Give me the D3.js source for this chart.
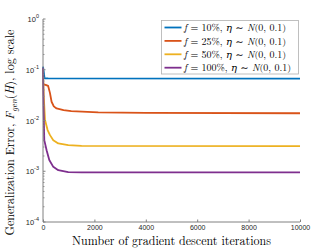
<!DOCTYPE html>
<html>
<head>
<meta charset="utf-8">
<script src="https://cdn.jsdelivr.net/npm/d3@7"></script>
<style>
  body { margin: 0; background: #fff; }
</style>
</head>
<body>
<div id="vis"></div>
<script>
// data
const xTicks = [0, 2000, 4000, 6000, 8000, 10000];
const yTicks = [1e-4, 1e-3, 1e-2, 1e-1, 1];
const yTickExp = ["-4", "-3", "-2", "-1", "0"];
const seriesNames = ["10%", "25%", "50%", "100%"];
const seriesColors = ["#0072BD", "#D95319", "#EDB120", "#7E2F8E"];

const iters10 = [0, 30, 60, 200, 10000];
const err10 = [0.115, 0.09, 0.068, 0.0675, 0.067];

const iters25 = [0, 100, 200, 270, 334, 420, 528, 800, 1100, 2150, 4000, 10000];
const err25 = [0.052, 0.0505, 0.048, 0.035, 0.0234, 0.019, 0.0173, 0.016, 0.0153, 0.0144, 0.0141, 0.0139];

const iters50 = [0, 30, 78, 179, 272, 400, 594, 982, 1500, 10000];
const err50 = [0.1, 0.03, 0.0102, 0.00647, 0.00515, 0.0041, 0.00353, 0.00327, 0.00315, 0.00312];

const iters100 = [0, 20, 50, 140, 245, 400, 594, 982, 1500, 10000];
const err100 = [0.11, 0.02, 0.0041, 0.0026, 0.00166, 0.00122, 0.00105, 0.00096, 0.00095, 0.00095];

const series = [
  {name: seriesNames[0], color: seriesColors[0], x: iters10, y: err10},
  {name: seriesNames[1], color: seriesColors[1], x: iters25, y: err25},
  {name: seriesNames[2], color: seriesColors[2], x: iters50, y: err50},
  {name: seriesNames[3], color: seriesColors[3], x: iters100, y: err100}
];

const width = 332, height = 249;
const margin = {top: 19, right: 32, bottom: 27, left: 43};
const axisColor = "#808080";
const serif = "'Latin Modern Roman', 'DejaVu Serif', serif";
const sans = "'Liberation Sans', Arial, sans-serif";

const svg = d3.create("svg").attr("width", width).attr("height", height);

const xScale = d3.scaleLinear().domain([0, 10000]).range([margin.left, width - margin.right]);
const yScale = d3.scaleLog().domain([1e-4, 1]).range([height - margin.bottom, margin.top]);

// lines
const line = d3.line().x(d => xScale(d[0])).y(d => yScale(d[1]));
series.forEach(s => {
  svg.append("path")
    .datum(s.x.map((v, i) => [v, s.y[i]]))
    .attr("fill", "none")
    .attr("stroke", s.color)
    .attr("stroke-width", 1.8)
    .attr("stroke-linejoin", "round")
    .attr("d", line);
});

// x axis
const xAxis = svg.append("g")
  .attr("transform", `translate(0,${height - margin.bottom})`)
  .call(d3.axisBottom(xScale).tickValues(xTicks).tickSize(-2.5).tickPadding(3.5).tickFormat(d3.format("d")));
xAxis.select(".domain").attr("stroke", axisColor).attr("d", `M${margin.left},0H${width - margin.right}`);
xAxis.selectAll(".tick line").attr("stroke", axisColor);
xAxis.selectAll(".tick text").attr("fill", "#262626").attr("font-family", sans).attr("font-size", 7);

// y axis with minor ticks
const minor = [];
for (let e = -4; e < 0; e++) for (let m = 2; m < 10; m++) minor.push(m * Math.pow(10, e));
const yAxis = svg.append("g").attr("transform", `translate(${margin.left},0)`);
yAxis.append("path").attr("stroke", axisColor).attr("fill", "none")
  .attr("d", `M0,${yScale(1e-4)}V${yScale(1)}`);
yAxis.selectAll(".minor").data(minor).join("line")
  .attr("x1", 0).attr("x2", 1.5)
  .attr("y1", d => yScale(d)).attr("y2", d => yScale(d))
  .attr("stroke", axisColor).attr("stroke-width", 0.8);
yAxis.selectAll(".major").data(yTicks).join("line")
  .attr("x1", 0).attr("x2", 2.5)
  .attr("y1", d => yScale(d)).attr("y2", d => yScale(d))
  .attr("stroke", axisColor);
const yLab = yAxis.selectAll(".lab").data(yTicks).join("text")
  .attr("x", -4).attr("y", d => yScale(d) + 3)
  .attr("text-anchor", "end")
  .attr("font-family", sans).attr("font-size", 7.5).attr("fill", "#262626");
yLab.append("tspan").text("10");
yLab.append("tspan").attr("dy", -4).attr("font-size", 5.5).text((d, i) => yTickExp[i]);

// x label
svg.append("text")
  .attr("x", (margin.left + width - margin.right) / 2)
  .attr("y", 244.5)
  .attr("text-anchor", "middle")
  .attr("font-family", serif).attr("font-size", 12).attr("fill", "#000")
  .text("Number of gradient descent iterations");

// y label
const yt = svg.append("text")
  .attr("transform", `translate(14,${(margin.top + height - margin.bottom) / 2 + 12}) rotate(-90)`)
  .attr("text-anchor", "middle")
  .attr("font-family", serif).attr("font-size", 12).attr("fill", "#000");
yt.append("tspan").text("Generalization Error, ");
yt.append("tspan").attr("font-style", "italic").text("F");
yt.append("tspan").attr("font-style", "italic").attr("font-size", 8.5).attr("dy", 3).text("gen");
yt.append("tspan").attr("dy", -3).text("(");
yt.append("tspan").attr("font-style", "italic").text("H");
yt.append("tspan").text("), log scale");

// legend
const lg = svg.append("g");
lg.append("rect")
  .attr("x", 161.5).attr("y", 20.5).attr("width", 137).attr("height", 53.5)
  .attr("fill", "#fff").attr("stroke", "#b0b0b0").attr("stroke-width", 0.8);
series.forEach((s, i) => {
  const y = 27.5 + i * 13.4;
  lg.append("line").attr("x1", 164.5).attr("x2", 181.5).attr("y1", y).attr("y2", y)
    .attr("stroke", s.color).attr("stroke-width", 1.8);
  const t = lg.append("text").attr("x", 184).attr("y", y + 3.6)
    .attr("font-family", serif).attr("font-size", 10).attr("fill", "#000");
  t.append("tspan").attr("font-style", "italic").text("f");
  t.append("tspan").text(" = " + s.name + ", ");
  t.append("tspan").attr("font-style", "italic").text("η");
  t.append("tspan").text(" ∼ ");
  t.append("tspan").attr("font-style", "italic").text("N");
  t.append("tspan").text("(0, 0.1)");
});

document.getElementById("vis").appendChild(svg.node());
</script>
</body>
</html>
